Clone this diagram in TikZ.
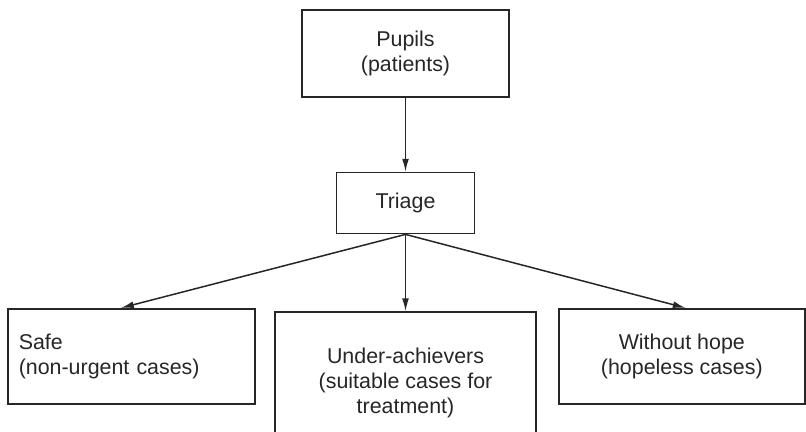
\documentclass[tikz,border=0pt]{standalone}
\usepackage{fontspec}
\setmainfont{Liberation Sans}
\usetikzlibrary{arrows.meta,positioning}

\begin{document}
\begin{tikzpicture}[
 x=0.5pt,y=-0.5pt,
 node distance=37pt,
 every node/.style={font=\fontsize{10.7}{12.5}\selectfont,text=black!85},
 box/.style={draw=black!85,line width=0.8pt,align=center,inner sep=0pt},
 arr/.style={-{Latex[length=6.5pt,width=3.4pt]},line width=0.75pt,draw=black!85}
]
\useasboundingbox (0,0) rectangle (806,432);
\clip (0,0) rectangle (806,432);
\node[box,minimum width=103.5pt,minimum height=43.5pt] (pupils) at (405.5,53.5) {Pupils\\(patients)};
\node[box,minimum width=69pt,minimum height=30.5pt,below=of pupils] (triage) {Triage};
\node[box,minimum width=130.5pt,minimum height=71pt,below=38.5pt of triage] (under) {Under-achievers\\(suitable cases for\\treatment)};
\node[box,anchor=north west,minimum width=123.5pt,minimum height=47.5pt,text width=112.5pt,align=left] (safe) at (7,308) {Safe\\(non-urgent cases)};
\node[box,anchor=north west,minimum width=123pt,minimum height=47.5pt] (hope) at (558,308) {Without hope\\(hopeless cases)};
\draw[arr] (pupils)--(triage);
\draw[arr] (triage.south)--([xshift=-5.25pt]safe.north);
\draw[arr] (triage.south)--(under.north);
\draw[arr] (triage.south)--([xshift=2pt]hope.north);
\end{tikzpicture}
\end{document}
